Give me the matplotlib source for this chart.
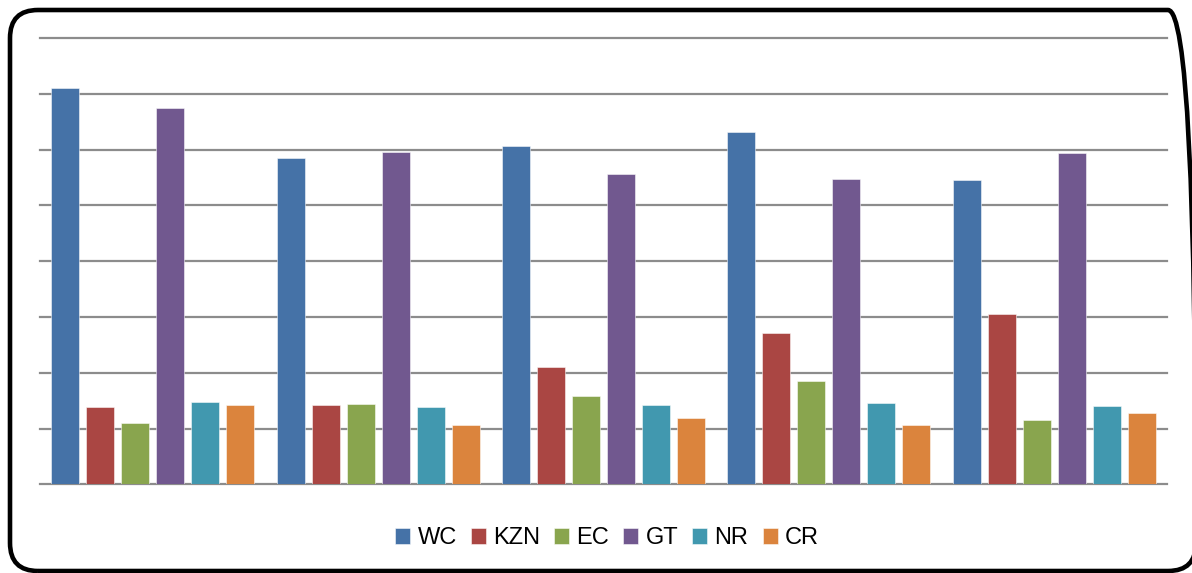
import numpy as np
import matplotlib
matplotlib.use('Agg')
import matplotlib.pyplot as plt
from matplotlib.patches import FancyBboxPatch

# five unlabeled groups, six regions each
groups = ['1', '2', '3', '4', '5']
series = ['WC', 'KZN', 'EC', 'GT', 'NR', 'CR']
wc = [7.10, 5.85, 6.06, 6.31, 5.45]
kzn = [1.39, 1.43, 2.10, 2.71, 3.05]
ec = [1.10, 1.44, 1.58, 1.85, 1.16]
gt = [6.75, 5.96, 5.57, 5.47, 5.93]
nr = [1.47, 1.38, 1.43, 1.45, 1.40]
cr = [1.42, 1.06, 1.18, 1.07, 1.27]
values = [wc, kzn, ec, gt, nr, cr]
colors = ['#4572A7', '#AA4643', '#89A54E', '#71588F', '#4198AF', '#DB843D']

plt.rcParams['font.family'] = ['Liberation Sans', 'DejaVu Sans']

W, H = 1192, 573
fig = plt.figure(figsize=(W / 100, H / 100), dpi=100)

# rounded frame in inches (1 in = 100 px), running off right/bottom edge
frame = FancyBboxPatch((0.10, 0.02), 11.86, 5.61,
                       boxstyle='round,pad=0,rounding_size=0.28',
                       transform=fig.dpi_scale_trans, fill=False,
                       edgecolor='black', linewidth=3.3)
fig.patches.append(frame)

ax = fig.add_axes([40 / W, (H - 484.3) / H, 1127 / W, (484.3 - 38) / H])
x = np.arange(len(groups))
step = 35 / 225.4
width = 28 / 225.4
for j, (name, vals) in enumerate(zip(series, values)):
    ax.bar(x + (j - 2.5) * step, vals, width, color=colors[j], label=name,
           edgecolor=(1, 1, 1, 0.6), linewidth=0.6, zorder=3)

ax.set_xlim(-0.5, len(groups) - 0.5)
ax.set_ylim(0, 8)
ax.set_yticks(np.arange(0, 9))
ax.grid(axis='y', color='#8c8c8c', linewidth=1.6, zorder=0)
for gl in ax.get_ygridlines():
    gl.set_clip_on(False)
ax.tick_params(left=False, bottom=False, labelleft=False, labelbottom=False)
for s in ax.spines.values():
    s.set_visible(False)
ax.set_xticks([])

fig.legend(loc='center', bbox_to_anchor=(607 / W, (H - 538) / H), ncol=6,
           frameon=False, fontsize=17, handlelength=0.64, handleheight=0.64,
           handletextpad=0.3, columnspacing=0.6)

fig.savefig('out.png', dpi=100)
